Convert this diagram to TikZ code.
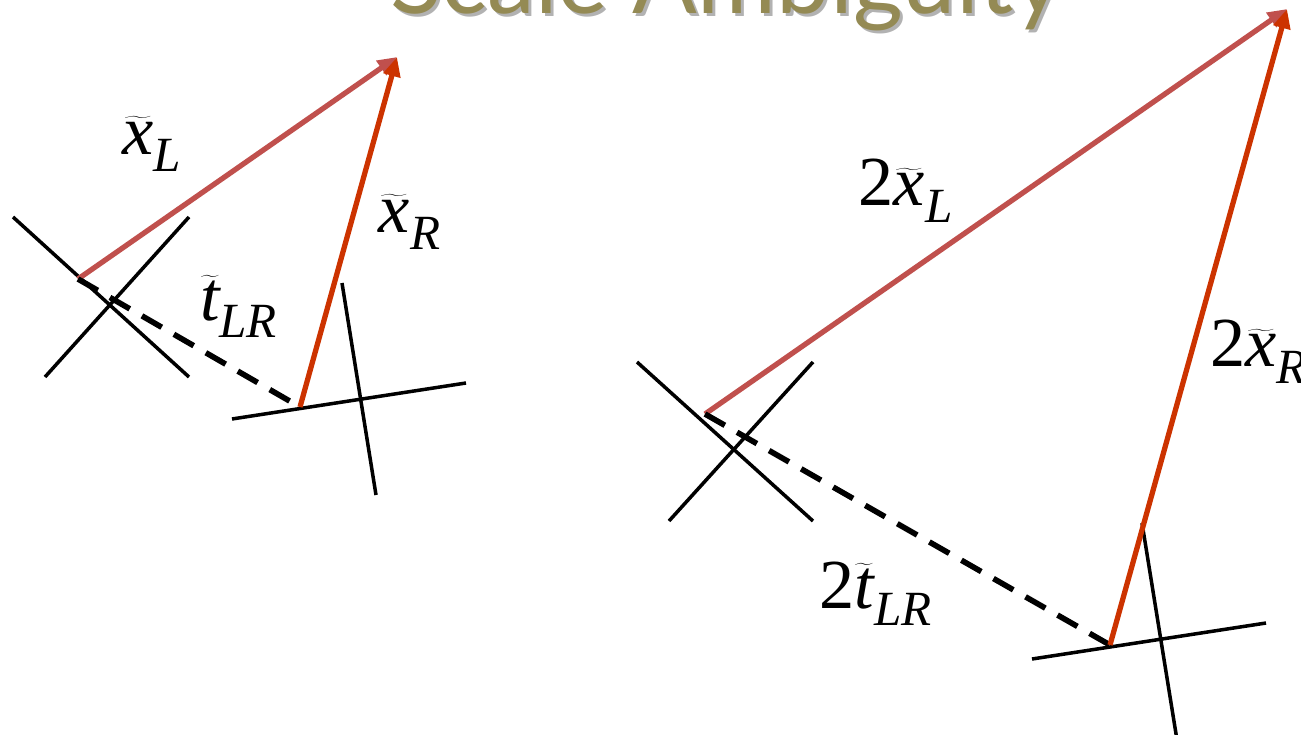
\documentclass[tikz,border=0pt]{standalone}
\usepackage{fontspec}
\setmainfont{Liberation Serif}
\newfontfamily\headfont{Lato}
\usetikzlibrary{arrows.meta}
\definecolor{rayleft}{RGB}{192,80,77}
\definecolor{rayright}{RGB}{204,51,0}
\definecolor{headolive}{RGB}{148,138,84}
\newcommand{\vx}{\widetilde{\mathit{x}}}
\newcommand{\vt}{\widetilde{\mathit{t}}}

\begin{document}
\begin{tikzpicture}[
      x=0.02cm, y=-0.02cm,
      axis/.style={draw=black, line width=2pt},
      baseline/.style={draw=black, line width=3.2pt, dash pattern=on 13pt off 8pt},
      ray/.style={-{Triangle[length=11pt, width=9.5pt]}, line width=3pt},
      lbl/.style={font=\fontsize{40}{40}\selectfont, inner sep=0pt},
      head/.style={font=\headfont\fontsize{54.5}{54.5}\selectfont, inner sep=0pt, anchor=base east}
    ]
    \useasboundingbox (0,0) rectangle (1301,734);
    % title, cut off by the top of the page
    \node[head, text=black!30] (headshadow) at (1066,16) {Scale Ambiguity};
    \node[head, text=headolive] (headtext) at (1063,13) {Scale Ambiguity};

    % first pair of cameras
    \coordinate (camL) at (78,279);
    \coordinate (camR) at (300,407);
    \coordinate (pt) at (397,57);
    \draw[axis] (13,217) -- (189,377);
    \draw[axis] (45,377) -- (189,217);
    \draw[axis] (232,419) -- (466,383);
    \draw[axis] (342,283) -- (376,495);
    \draw[ray, rayleft] (camL) -- (pt);
    \draw[baseline] (camL) -- (camR);
    \draw[ray, rayright] (camR) -- (pt);
    \node[lbl] (xl) at (152,144) {$\vx_{\mathit{L}}$};
    \node[lbl] (xr) at (410,222) {$\vx_{\mathit{R}}$};
    \node[lbl] (tlr) at (239,306) {$\vt_{\mathit{LR}}$};

    % second pair, everything twice as far
    \coordinate (camLb) at (705,414);
    \coordinate (camRb) at (1110,645);
    \coordinate (ptb) at (1287,9);
    \draw[axis] (637,362) -- (813,521);
    \draw[axis] (669,521) -- (813,362);
    \draw[axis] (1032,659) -- (1266,623);
    \draw[axis] (1142,523) -- (1177,740);
    \draw[ray, rayleft] (camLb) -- (ptb);
    \draw[baseline] (camLb) -- (camRb);
    \draw[ray, rayright] (camRb) -- (ptb);
    \node[lbl] (xlb) at (906,191) {2$\vx_{\mathit{L}}$};
    \node[lbl, anchor=west] (xrb) at (1210,352) {2$\vx_{\mathit{R}}$};
    \node[lbl] (tlrb) at (876,594) {2$\vt_{\mathit{LR}}$};
  \end{tikzpicture}
\end{document}
